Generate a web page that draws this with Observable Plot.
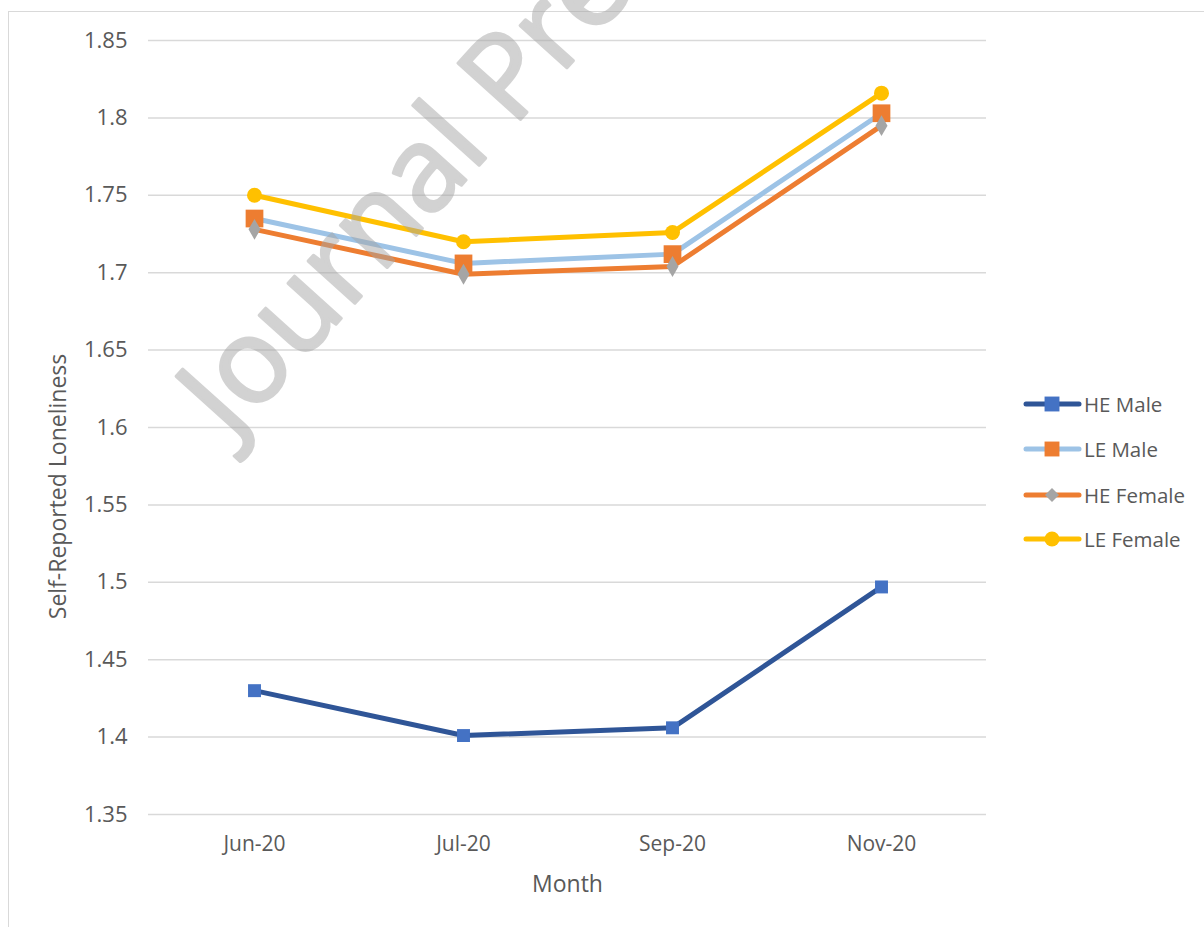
<!DOCTYPE html>
<html>
<head>
<meta charset="utf-8">
<script src="https://cdn.jsdelivr.net/npm/d3@7"></script>
<script src="https://cdn.jsdelivr.net/npm/@observablehq/plot@0.6"></script>
<style>
  html, body { margin: 0; padding: 0; background: #fff; }
  #wrap { position: relative; width: 1204px; height: 927px; overflow: hidden; font-family: "Open Sans", sans-serif; }
  #border { position: absolute; left: 8px; top: 11px; width: 1300px; height: 1000px; border-top: 1.5px solid #d9d9d9; border-left: 1.5px solid #d9d9d9; }
  #chart { position: absolute; left: 0; top: 0; }
  #legend { position: absolute; left: 1022px; top: 0; }
  .item { position: absolute; left: 0; display: flex; align-items: center; height: 24px; white-space: nowrap; }
  .item span { font-size: 20.5px; color: #595959; margin-left: 2px; }
  #wm { position: absolute; left: 0; top: 0; pointer-events: none; }
</style>
</head>
<body>
<div id="wrap">
  <div id="border"></div>
  <div id="chart"></div>
  <div id="legend"></div>
  <svg id="wm" width="1204" height="927"></svg>
</div>
<script>
// ---- data ----
const months = ["Jun-20", "Jul-20", "Sep-20", "Nov-20"];
const seriesNames = ["HE Male", "LE Male", "HE Female", "LE Female"];
const heMale   = [1.430, 1.401, 1.406, 1.497];
const leMale   = [1.735, 1.706, 1.712, 1.803];
const heFemale = [1.728, 1.699, 1.704, 1.795];
const leFemale = [1.750, 1.720, 1.726, 1.816];
const yTicks = [1.35, 1.4, 1.45, 1.5, 1.55, 1.6, 1.65, 1.7, 1.75, 1.8, 1.85];
const yLabel = "Self-Reported Loneliness";
const xLabel = "Month";
const watermark = "Journal Pre-proof";

// ---- styles ----
const styles = [
  {line: "#2F5597", marker: "#4472C4", symbol: "square", r: 7.3},
  {line: "#9DC3E6", marker: "#ED7D31", symbol: "square", r: 10},
  {line: "#ED7D31", marker: "#A5A5A5", symbol: "diamond", r: 6.3},
  {line: "#FFC000", marker: "#FFC000", symbol: "circle", r: 7.5}
];
const values = [heMale, leMale, heFemale, leFemale];

const rows = seriesNames.map((name, i) => months.map((m, j) => ({series: name, month: m, value: values[i][j]})));

const marks = [
  Plot.gridY({ticks: yTicks, stroke: "#d9d9d9", strokeOpacity: 1, strokeWidth: 1.5}),
  Plot.axisY({ticks: yTicks, tickSize: 0, tickPadding: 21, tickFormat: d => String(d), label: null, fontSize: 22}),
  Plot.axisX({tickSize: 0, tickPadding: 22, label: null, fontSize: 21}),
  Plot.text([yLabel], {frameAnchor: "left", rotate: -90, dx: -90, dy: 59, fontSize: 23, fill: "#595959", lineAnchor: "middle", textAnchor: "middle"}),
  Plot.text([xLabel], {frameAnchor: "bottom", dy: 70, fontSize: 23, fill: "#595959", lineAnchor: "middle", textAnchor: "middle"})
];
rows.forEach((data, i) => {
  const s = styles[i];
  marks.push(Plot.line(data, {x: "month", y: "value", stroke: s.line, strokeWidth: 5, strokeLinejoin: "round", strokeLinecap: "round"}));
  marks.push(Plot.dot(data, {x: "month", y: "value", symbol: s.symbol, r: s.r, fill: s.marker, stroke: "none"}));
});

const chart = Plot.plot({
  width: 1204,
  height: 927,
  marginLeft: 148,
  marginRight: 218,
  marginTop: 40,
  marginBottom: 113,
  style: {fontFamily: "Open Sans", fontSize: "20px", color: "#595959", background: "transparent"},
  x: {type: "point", domain: months, padding: 0.5},
  y: {domain: [1.35, 1.85]},
  marks
});
document.getElementById("chart").appendChild(chart);

// ---- legend ----
const legend = document.getElementById("legend");
const rowY = [404, 449, 495, 539];
seriesNames.forEach((name, i) => {
  const s = styles[i];
  const item = document.createElement("div");
  item.className = "item";
  item.style.top = (rowY[i] - 12) + "px";
  const ns = "http://www.w3.org/2000/svg";
  const svg = document.createElementNS(ns, "svg");
  svg.setAttribute("width", 60); svg.setAttribute("height", 24);
  const ln = document.createElementNS(ns, "line");
  ln.setAttribute("x1", 4); ln.setAttribute("x2", 57); ln.setAttribute("y1", 12); ln.setAttribute("y2", 12);
  ln.setAttribute("stroke", s.line); ln.setAttribute("stroke-width", 5); ln.setAttribute("stroke-linecap", "round");
  svg.appendChild(ln);
  const symMap = {square: d3.symbolSquare, diamond: d3.symbolDiamond2, circle: d3.symbolCircle};
  const p = document.createElementNS(ns, "path");
  const rr = s.symbol === "square" ? 8.4 : s.symbol === "diamond" ? 6.3 : 7.5;
  p.setAttribute("d", d3.symbol(symMap[s.symbol], rr * rr * Math.PI)());
  p.setAttribute("transform", "translate(30,12)");
  p.setAttribute("fill", s.marker);
  svg.appendChild(p);
  item.appendChild(svg);
  const t = document.createElement("span");
  t.textContent = name;
  item.appendChild(t);
  legend.appendChild(item);
});

// ---- watermark (fit so "J" tip to "P" stem spans the reference distance) ----
const wm = d3.select("#wm");
const angle = 48;
const wt = wm.append("text")
  .attr("font-family", "Open Sans")
  .attr("font-weight", 400)
  .attr("font-size", 100)
  .attr("fill", "#a6a6a6")
  .attr("stroke", "#a6a6a6")
  .attr("stroke-width", 3)
  .attr("stroke-linejoin", "round")
  .attr("opacity", 0.5)
  .text(watermark);
const p100 = wt.node().getStartPositionOfChar(8).x / 100; // advance of "Journal " per em
const fs = 435 / (p100 + 0.12);
wt.attr("font-size", fs);
const along = (p100 + 0.09) * fs;
const ux = Math.cos(angle * Math.PI / 180), uy = -Math.sin(angle * Math.PI / 180);
const ox = 520 - ux * along, oy = 120 - uy * along;
wt.attr("transform", `translate(${ox},${oy}) rotate(${-angle})`);
</script>
</body>
</html>
